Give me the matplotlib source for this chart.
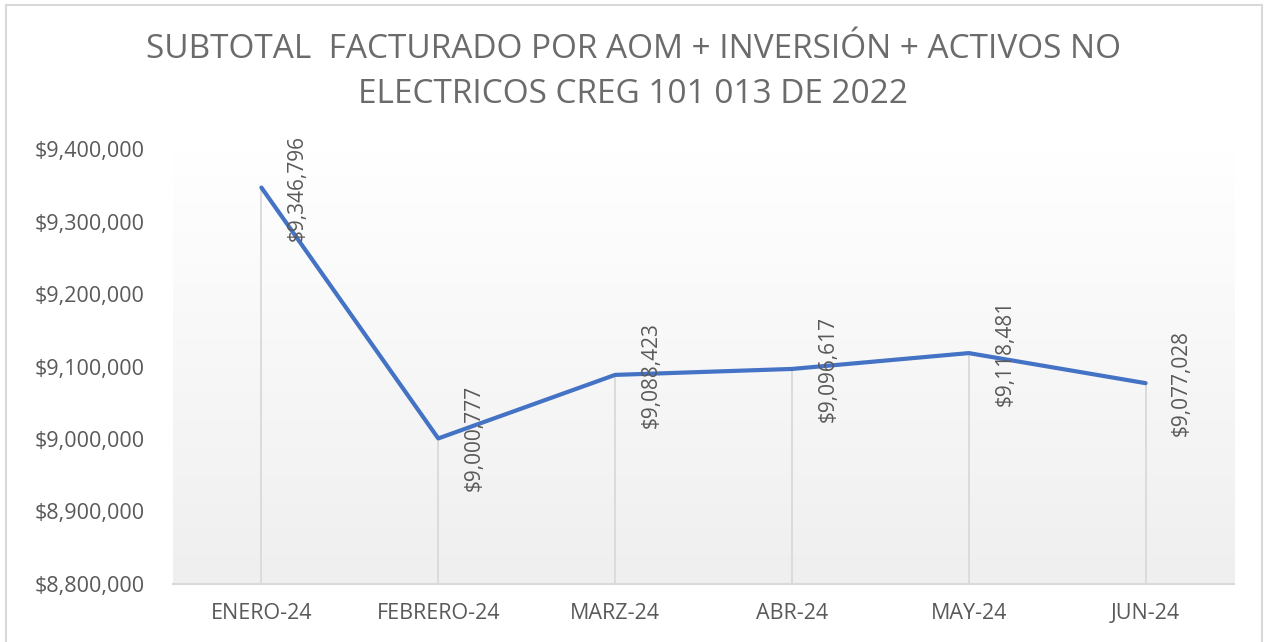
import numpy as np
import matplotlib
matplotlib.use("Agg")
import matplotlib.pyplot as plt
from matplotlib.ticker import FuncFormatter
from matplotlib.patches import Rectangle

months = ["ENERO-24", "FEBRERO-24", "MARZ-24", "ABR-24", "MAY-24", "JUN-24"]
values = [9346796, 9000777, 9088423, 9096617, 9118481, 9077028]
y_ticks = [8800000, 8900000, 9000000, 9100000, 9200000, 9300000, 9400000]

title = "SUBTOTAL  FACTURADO POR AOM + INVERSIÓN + ACTIVOS NO\nELECTRICOS CREG 101 013 DE 2022"

font = ["Open Sans", "DejaVu Sans"]
gray = "#595959"

fig = plt.figure(figsize=(12.64, 6.42), dpi=100)
W, H = 1264, 642
ax = fig.add_axes([173 / W, 1 - 584 / H, (1234 - 173) / W, (584 - 149) / H])

x = np.arange(len(months))

# gradient background of plot area
grad = np.linspace(0, 1, 256).reshape(-1, 1)
ax.imshow(grad, cmap=matplotlib.colors.LinearSegmentedColormap.from_list(
    "g", ["#ffffff", "#efefef"]), aspect="auto",
    extent=[-0.5, len(months) - 0.5, y_ticks[0], y_ticks[-1]], origin="upper", zorder=0)

# drop lines
ax.vlines(x, y_ticks[0], values, color="#d9d9d9", lw=1.3, zorder=1)
ax.plot(x, values, color="#4472C4", lw=3, solid_capstyle="round", zorder=3)

for xi, v in zip(x, values):
    ax.annotate(f"${v:,.0f}", (xi, v), xytext=(26, 0), textcoords="offset points",
                rotation=90, ha="center", va="center", fontsize=15,
                color=gray, family=font, zorder=4)

ax.set_xlim(-0.5, len(months) - 0.5)
ax.set_ylim(y_ticks[0], y_ticks[-1])
ax.set_yticks(y_ticks)
ax.yaxis.set_major_formatter(FuncFormatter(lambda v, p: f"${v:,.0f}"))
ax.set_xticks(x)
ax.set_xticklabels(months)
for lab in ax.get_xticklabels() + ax.get_yticklabels():
    lab.set_family(font)
    lab.set_fontsize(15.5)
    lab.set_color(gray)
ax.tick_params(axis="both", length=0)
ax.tick_params(axis="y", pad=20.5)
ax.tick_params(axis="x", pad=14)
for s in ["top", "right", "left"]:
    ax.spines[s].set_visible(False)
ax.spines["bottom"].set_color("#d9d9d9")
ax.spines["bottom"].set_linewidth(1.5)

fig.text(633 / W, 1 - 72 / H, title, ha="center", va="center", fontsize=24,
         color="#6b6b6b", family=font, linespacing=1.45)

# outer chart border
fig.patches.append(Rectangle((6 / W, -0.05), (1262 - 6) / W, 1.05 - 5 / H,
                             transform=fig.transFigure, fill=False,
                             edgecolor="#d9d9d9", lw=1.5))

fig.savefig("out.png", dpi=100)
